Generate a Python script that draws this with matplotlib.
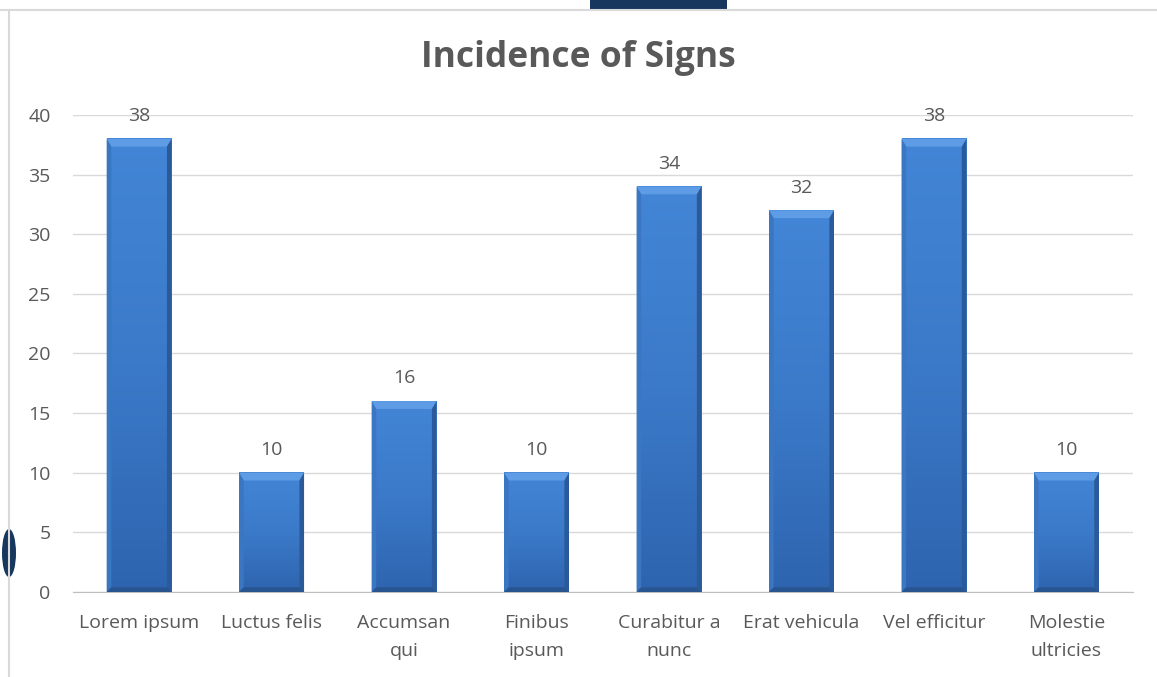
import numpy as np
import matplotlib.pyplot as plt
from matplotlib.patches import Polygon, Rectangle, Ellipse
from matplotlib.colors import LinearSegmentedColormap

categories = ['Lorem ipsum', 'Luctus felis', 'Accumsan\nqui', 'Finibus\nipsum',
              'Curabitur a\nnunc', 'Erat vehicula', 'Vel efficitur', 'Molestie\nultricies']
values = [38, 10, 16, 10, 34, 32, 38, 10]
yticks = [0, 5, 10, 15, 20, 25, 30, 35, 40]

plt.rcParams['font.family'] = ['Open Sans', 'DejaVu Sans']
grey = '#595959'

fig = plt.figure(figsize=(11.57, 6.77), dpi=100)
ax = fig.add_axes([0.063, 0.1256, 0.916, 0.7045])

x = np.arange(len(categories))
w = 0.49

# bevel sizes
bx = 0.035
by = 0.65
face_cmap = LinearSegmentedColormap.from_list('face', ['#2E64AF', '#3B7AC9', '#4385D6'])
grad = np.linspace(0, 1, 256).reshape(-1, 1)

for xi, v in zip(x, values):
    l, r = xi - w / 2, xi + w / 2
    ax.imshow(grad, cmap=face_cmap, origin='lower', extent=(l, r, 0, v),
              aspect='auto', zorder=3, interpolation='bilinear')
    # top bevel
    ax.add_patch(Polygon([(l, v), (r, v), (r - bx, v - by), (l + bx, v - by)],
                         facecolor='#5E9CE6', edgecolor='none', zorder=4))
    # left bevel
    ax.add_patch(Polygon([(l, v), (l + bx, v - by), (l + bx, by * 0.6), (l, 0)],
                         facecolor='#3A76C2', edgecolor='none', zorder=4))
    # right bevel
    ax.add_patch(Polygon([(r, v), (r - bx, v - by), (r - bx, by * 0.6), (r, 0)],
                         facecolor='#2A5A9A', edgecolor='none', zorder=4))
    # bottom bevel
    ax.add_patch(Polygon([(l, 0), (r, 0), (r - bx, by * 0.6), (l + bx, by * 0.6)],
                         facecolor='#285590', edgecolor='none', zorder=4))
    ax.text(xi, v + 1.15, str(v), ha='center', va='bottom', fontsize=14, color=grey, zorder=5)

ax.set_xlim(-0.5, len(categories) - 0.5)
ax.set_ylim(0, 40)
ax.set_yticks(yticks)
ax.set_xticks(x)
ax.set_xticklabels(categories, fontsize=14, color=grey, linespacing=1.7)
ax.tick_params(axis='y', labelsize=14, labelcolor=grey, length=0, pad=16)
ax.tick_params(axis='x', length=0, pad=16)
ax.grid(axis='y', color='#D9D9D9', linewidth=1, zorder=0)
for s in ['top', 'right', 'left']:
    ax.spines[s].set_visible(False)
ax.spines['bottom'].set_color('#BFBFBF')
ax.spines['bottom'].set_zorder(2)

fig.text(0.5, 0.915, 'Incidence of Signs', ha='center', va='center',
         fontsize=25.5, fontweight='bold', color=grey)

# chart border and background decoration
fig.add_artist(plt.Line2D([0, 1], [1 - 10 / 677] * 2, color='#D9D9D9', lw=1.5))
fig.add_artist(plt.Line2D([9 / 1157] * 2, [0, 1 - 10 / 677], color='#D9D9D9', lw=1.5))
fig.add_artist(Rectangle((590 / 1157, 1 - 9 / 677), 137 / 1157, 9 / 677,
                         transform=fig.transFigure, facecolor='#17375E', edgecolor='none'))
fig.add_artist(Ellipse((9 / 1157, 1 - 553 / 677), 14 / 1157, 48 / 677,
                       transform=fig.transFigure, facecolor='#17375E', edgecolor='none', zorder=-1))

fig.savefig('out.png', dpi=100)
